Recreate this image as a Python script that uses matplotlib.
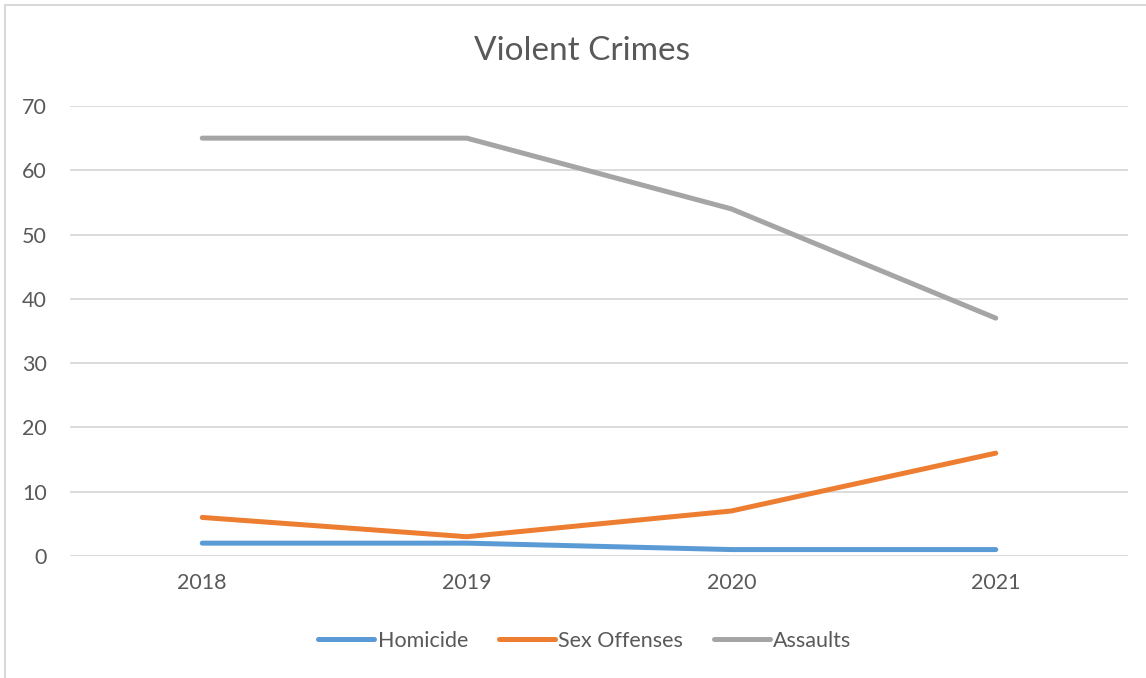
import matplotlib.pyplot as plt
from matplotlib.patches import Rectangle

years = ['2018', '2019', '2020', '2021']
homicide = [2, 2, 1, 1]
sex_offenses = [6, 3, 7, 16]
assaults = [65, 65, 54, 37]

text_color = '#595959'
grid_color = '#D9D9D9'

plt.rcParams['font.family'] = ['Lato', 'DejaVu Sans']

fig = plt.figure(figsize=(11.46, 6.78), dpi=100)
ax = fig.add_axes([70 / 1146, 1 - 556 / 678, 1058 / 1146, 450 / 678])

x = range(len(years))
ax.plot(x, homicide, color='#5B9BD5', lw=3.6, solid_capstyle='round', label='Homicide')
ax.plot(x, sex_offenses, color='#ED7D31', lw=3.6, solid_capstyle='round', label='Sex Offenses')
ax.plot(x, assaults, color='#A5A5A5', lw=3.6, solid_capstyle='round', label='Assaults')

ax.set_xlim(-0.5, 3.5)
ax.set_ylim(0, 70)
ax.set_yticks(range(0, 71, 10))
ax.set_xticks(list(x))
ax.set_xticklabels(years)
ax.yaxis.grid(True, color=grid_color, lw=1.3)
ax.set_axisbelow(True)
for s in ax.spines.values():
    s.set_visible(False)
ax.tick_params(length=0, labelsize=15.5, colors=text_color)
ax.tick_params(axis='y', pad=16.5)
ax.tick_params(axis='x', pad=12)

fig.text(582 / 1146, 1 - 51 / 678, 'Violent Crimes', ha='center', va='center',
         fontsize=24, color=text_color)

leg = fig.legend(loc='center', bbox_to_anchor=(585 / 1146, 1 - 641 / 678), ncol=3,
                 frameon=False, fontsize=15.5, handlelength=2.6, handletextpad=0.15,
                 columnspacing=1.44)
for t in leg.get_texts():
    t.set_color(text_color)

# chart border (cut off at right and bottom)
fig.patches.append(Rectangle((5 / 1146, -0.2), 1.1, 1.2 - 5 / 678, transform=fig.transFigure,
                             fill=False, edgecolor=grid_color, lw=1.5))

fig.savefig('out.png', dpi=100)
